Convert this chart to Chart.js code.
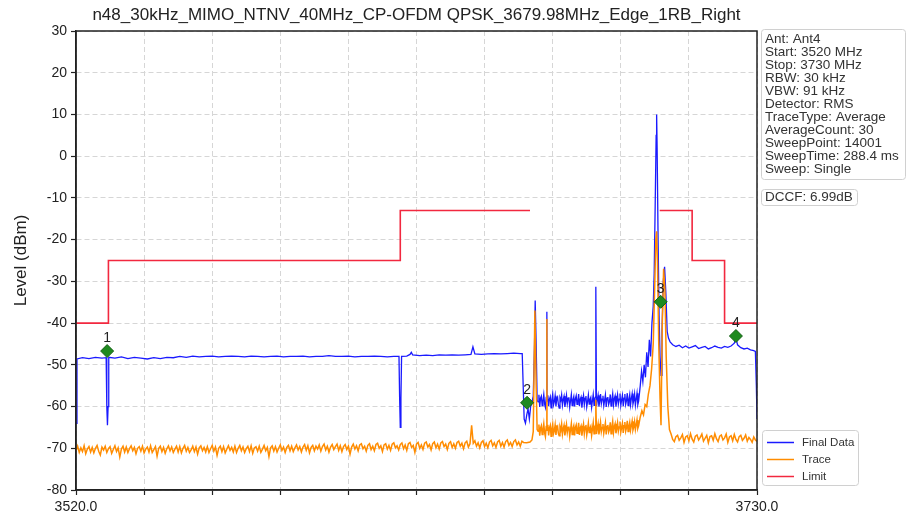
<!DOCTYPE html>
<html>
<head>
<meta charset="utf-8">
<script src="https://cdn.jsdelivr.net/npm/chart.js@4.4.0/dist/chart.umd.min.js"></script>
<style>
  html, body { margin: 0; padding: 0; background: #fff; }
</style>
</head>
<body>
<canvas id="place__graph1" width="909" height="517"></canvas>
<script>
// ---- chart values ----
const chartTitle = 'n48_30kHz_MIMO_NTNV_40MHz_CP-OFDM QPSK_3679.98MHz_Edge_1RB_Right';
const xTickValues = [3520, 3541, 3562, 3583, 3604, 3625, 3646, 3667, 3688, 3709, 3730];
const yTickValues = [-80, -70, -60, -50, -40, -30, -20, -10, 0, 10, 20, 30];

// Final Data (blue) - [MHz, dBm]
const finalLeft = [[3520,-64],[3520.3,-48.6],[3522,-48.3],[3524,-48.5],[3526,-48.2],[3528,-48.4],[3529.3,-48.3],[3529.5,-60],[3529.7,-64.5],[3529.9,-60],[3530.1,-48.2],
  [3532,-48.4],[3534,-48.1],[3536,-48.5],[3538,-48.2],[3540,-48.4],[3542,-48.6],[3544,-48.3],[3546,-48.5],[3548,-48.2],[3550,-48.3],[3552,-48.0],[3554,-48.2],
  [3556,-47.9],[3558,-48.1],[3560,-48.0],[3562,-47.9],[3564,-48.1],[3566,-48.0],[3568,-47.9],[3570,-48.0],[3572,-48.1],[3574,-47.9],[3576,-48.0],[3578,-48.1],
  [3580,-48.0],[3582,-47.9],[3584,-48.1],[3586,-48.0],[3588,-48.0],[3590,-47.9],[3592,-48.1],[3594,-48.0],[3596,-48.0],[3598,-47.8],[3600,-48.0],[3602,-48.0],
  [3604,-47.9],[3606,-48.1],[3608,-48.0],[3610,-48.0],[3612,-47.9],[3614,-48.0],[3616,-48.1],[3618,-48.0],[3619.6,-48.0],[3619.8,-58],[3620.0,-65],[3620.2,-58],
  [3620.4,-48.0],[3622,-47.9],[3623,-47.5],[3623.4,-47.0],[3623.8,-47.6],[3626,-47.8],[3628,-47.7],[3630,-47.8],[3632,-47.6],[3634,-47.7],[3636,-47.6],[3638,-47.7],
  [3640,-47.6],[3641.8,-47.5],[3642.4,-45.7],[3643,-47.4],[3645,-47.5],[3647,-47.4],[3649,-47.3],[3651,-47.4],[3653,-47.3],[3655,-47.2],[3657,-47.3],[3657.6,-47.3],
  [3657.9,-55],[3658.2,-63],[3658.6,-64],[3659.0,-62],[3659.4,-60.5],[3659.8,-63],[3660.2,-60],[3660.6,-59],[3661.0,-57.5],[3661.4,-45],[3661.6,-34.6],[3661.9,-45],[3662.2,-58.5]];
// in-band noise 3662.5 .. 3693.5 MHz, 0.25 MHz apart
const finalBandStart = 3662.5;
const finalBand = [
  -58.9,-57.2,-60.1,-58.0,-57.5,-59.8,-58.6,-57.1,-59.4,-60.2,-57.8,-58.7,-57.3,-59.9,-58.2,-57.6,-60.3,-58.4,-57.0,-59.6,
  -58.8,-57.4,-60.0,-58.1,-57.7,-59.5,-60.4,-57.9,-58.5,-57.2,-59.7,-58.3,-57.5,-60.1,-58.9,-57.3,-59.3,-58.0,-57.8,-60.2,
  -58.6,-57.1,-59.8,-58.4,-57.6,-60.0,-58.1,-57.4,-59.5,-58.7,-57.0,-59.9,-58.2,-57.7,-60.3,-58.5,-57.3,-59.6,-58.0,-57.5,
  -60.1,-58.8,-57.2,-59.4,-58.3,-57.8,-60.2,-58.6,-57.1,-59.7,-58.0,-57.6,-59.9,-58.4,-57.3,-60.0,-58.7,-57.0,-59.3,-58.2,
  -57.4,-59.8,-58.5,-57.2,-60.1,-58.0,-57.7,-59.5,-58.8,-57.1,-59.9,-58.3,-56.9,-59.6,-58.1,-57.4,-60.0,-58.6,-57.2,-59.4,
  -58.2,-56.9,-59.7,-58.4,-57.3,-59.9,-58.0,-57.0,-59.5,-58.6,-56.8,-59.8,-58.3,-57.1,-59.6,-58.1,-56.9,-59.4,-58.5,-57.0,
  -59.7,-58.2,-56.8,-59.5,-58.7];
const finalSpikes = [[3665.2,-37.3],[3680.3,-31.3]];
const finalRight = [[3694,-55],[3694.4,-51.5],[3694.8,-54],[3695.2,-50],[3695.6,-53],[3696,-47],[3696.4,-50.5],[3696.8,-44],[3697.2,-48],[3697.6,-40],
  [3698.0,-36],[3698.3,-28],[3698.6,-12],[3698.9,5],[3699.05,10],[3699.2,2],[3699.5,-20],[3699.8,-38],[3700.1,-48],[3700.4,-52.5],[3700.7,-42],
  [3701.1,-30],[3701.5,-26.5],[3701.9,-33],[3702.3,-42],[3702.7,-43.6],[3703.2,-44.5],
  [3704,-45.2],[3705,-45.6],[3706,-45.3],[3707,-45.9],[3708,-45.5],[3709,-46.0],[3710,-45.7],[3711,-45.4],[3712,-46.1],[3713,-45.8],[3714,-45.6],
  [3715,-46.2],[3716,-45.9],[3717,-45.5],[3718,-45.8],[3719,-46.0],[3720,-45.6],[3721,-45.8],[3722,-45.5],[3723,-44.8],[3723.5,-43.5],[3724,-45.2],
  [3725,-45.9],[3726,-46.2],[3727,-46.0],[3728,-46.4],[3729,-46.6],[3729.5,-46.8],[3729.8,-55],[3730,-63]];

// Trace (orange)
const traceLeftStart = 3520; // 0.5 MHz apart up to 3658
const traceLeft = [
  -70.6,-69.5,-71.0,-69.9,-70.8,-69.4,-71.3,-70.2,-69.6,-70.9,-69.8,-71.1,-70.0,-69.3,-70.7,-71.6,-69.7,-70.4,-69.5,-71.0,
  -70.1,-69.6,-71.2,-70.3,-69.4,-70.8,-69.9,-72.1,-70.2,-69.5,-70.9,-69.7,-71.0,-70.1,-69.4,-70.6,-69.8,-71.3,-70.0,-69.6,
  -70.7,-69.5,-71.1,-70.2,-69.7,-70.9,-69.4,-71.0,-70.3,-69.6,-71.9,-70.0,-69.5,-70.8,-69.8,-71.2,-70.1,-69.4,-70.6,-69.7,
  -71.0,-70.2,-69.5,-70.9,-69.6,-71.1,-70.0,-69.3,-70.7,-69.8,-71.0,-70.4,-69.5,-70.8,-69.7,-71.4,-69.9,-69.4,-70.6,-69.8,
  -70.9,-69.6,-71.0,-70.1,-69.3,-70.7,-69.7,-71.7,-70.0,-69.5,-70.8,-69.6,-71.1,-70.2,-69.4,-70.5,-69.8,-70.9,-69.5,-71.0,
  -70.0,-69.3,-70.6,-69.7,-71.0,-70.1,-69.5,-70.8,-69.4,-71.2,-69.9,-69.6,-70.7,-69.5,-71.0,-70.2,-69.3,-70.6,-69.8,-72.0,
  -69.9,-69.4,-70.7,-69.6,-70.9,-70.0,-69.2,-70.5,-69.7,-71.0,-69.8,-69.3,-70.6,-69.5,-70.8,-69.9,-69.2,-70.4,-69.6,-70.9,
  -69.7,-69.1,-70.5,-69.4,-71.1,-69.8,-69.3,-70.6,-69.5,-70.2,-69.2,-70.7,-69.6,-69.0,-70.4,-69.5,-70.9,-69.7,-69.1,-70.3,
  -69.6,-69.0,-70.5,-69.4,-70.8,-69.6,-69.1,-70.3,-69.5,-71.4,-69.7,-69.0,-70.2,-69.4,-70.6,-69.2,-68.9,-70.1,-69.5,-70.7,
  -69.3,-68.9,-70.3,-69.5,-70.6,-69.1,-68.8,-70.0,-69.4,-70.8,-69.2,-68.9,-70.2,-69.3,-70.5,-69.0,-68.7,-69.9,-69.4,-70.4,
  -69.1,-68.7,-70.1,-69.2,-70.5,-68.9,-68.6,-69.8,-69.3,-71.0,-69.0,-68.6,-70.0,-69.2,-70.3,-68.8,-68.5,-69.7,-69.1,-70.4,
  -68.9,-68.5,-69.9,-69.0,-70.2,-68.7,-68.4,-69.6,-69.0,-70.3,-68.8,-68.4,-69.8,-68.9,-70.0,-68.6,-68.3,-69.5,-68.8,-70.1,
  -68.7,-68.3,-69.7,-68.9,-64.5,-68.8,-68.2,-69.5,-68.7,-69.9,-68.6,-68.2,-69.6,-68.8,-69.9,-68.5,-68.1,-69.4,-68.7,-69.8,
  -68.5,-68.1,-69.5,-68.6,-69.7,-68.4,-68.0,-69.3,-68.6,-69.6,-68.4,-68.0,-69.2,-68.5,-69.5,-68.3,-68.6];
const traceStep = [[3659,-68.7],[3660,-68.5],[3660.6,-68],[3661.0,-66],[3661.5,-37],[3661.9,-55],[3662.2,-65.5]];
const traceBandStart = 3662.5; // 0.25 MHz apart up to 3693.5
const traceBand = [
  -65.9,-64.3,-67.0,-65.2,-64.6,-66.7,-65.5,-64.1,-66.3,-67.2,-64.8,-65.7,-64.4,-66.9,-65.1,-64.5,-67.1,-65.4,-64.2,-66.5,
  -65.8,-64.4,-66.8,-65.0,-64.7,-66.4,-67.0,-64.9,-65.6,-64.2,-66.6,-65.3,-64.5,-66.9,-65.7,-64.3,-66.2,-65.0,-64.8,-67.1,
  -65.5,-64.1,-66.7,-65.3,-64.6,-66.9,-65.0,-64.4,-66.4,-65.6,-63.9,-66.8,-65.1,-64.6,-67.0,-65.4,-64.2,-66.5,-64.9,-64.4,
  -66.8,-65.6,-64.0,-66.2,-65.2,-64.7,-66.9,-65.4,-63.9,-66.5,-64.9,-64.4,-66.6,-65.2,-64.1,-66.7,-65.5,-63.8,-66.0,-65.0,
  -64.2,-66.4,-65.2,-63.9,-66.7,-64.8,-64.4,-66.1,-65.5,-63.8,-66.5,-65.0,-63.6,-66.2,-64.8,-64.1,-66.4,-65.3,-63.9,-65.9,
  -64.9,-63.6,-66.1,-65.0,-64.0,-66.3,-64.6,-63.7,-65.9,-65.1,-63.4,-66.0,-64.8,-63.8,-65.7,-64.6,-63.5,-65.6,-64.9,-63.6,
  -65.5,-64.4,-63.2,-65.2,-64.6];
const traceSpikes = [[3665.2,-39],[3680.3,-58.4]];
const tracePeak = [[3694,-62.5],[3694.5,-61],[3695,-62],[3695.5,-59.5],[3696,-60],[3696.5,-57],[3697,-55],[3697.5,-51],[3698,-45],[3698.4,-33],
  [3698.8,-20],[3699.05,-18],[3699.3,-25],[3699.7,-45],[3700.1,-58],[3700.4,-64.5],[3700.8,-40],[3701.2,-27],[3701.6,-32],[3702.0,-48],
  [3702.5,-60],[3703.0,-65.5]];
const traceRightStart = 3703.5; // 0.5 MHz apart up to 3730
const traceRight = [-66.6,-67.9,-68.4,-67.2,-66.9,-68.1,-67.5,-66.7,-68.6,-67.3,
  -67.0,-68.2,-66.5,-67.8,-68.5,-67.1,-66.8,-68.0,-67.4,-66.6,
  -68.3,-67.6,-66.9,-68.7,-67.2,-67.0,-68.1,-66.5,-67.7,-68.4,
  -67.1,-66.8,-68.0,-67.5,-66.6,-68.6,-67.3,-67.0,-68.2,-66.7,
  -67.9,-68.5,-67.2,-66.9,-68.1,-67.6,-66.8,-68.3,-67.4,-67.9,
  -68.6,-67.3,-68.0,-68.4];

// Limit (red), null = gap over the channel
const limitFreq  = [3520, 3530, 3530, 3620, 3620, 3660, 3660, 3700, 3710, 3710, 3720, 3720, 3730];
const limitLevel = [-40,  -40,  -25,  -25,  -13,  -13,  null, -13,  -13,  -25,  -25,  -40,  -40];

// markers
const markerFreq  = [3529.6, 3659.1, 3700.3, 3723.5];
const markerLevel = [-46.7, -59.1, -34.9, -43.1];
const markerLabel = ['1', '2', '3', '4'];

const infoLines = ['Ant: Ant4', 'Start: 3520 MHz', 'Stop: 3730 MHz', 'RBW: 30 kHz', 'VBW: 91 kHz', 'Detector: RMS',
  'TraceType: Average', 'AverageCount: 30', 'SweepPoint: 14001', 'SweepTime: 288.4 ms', 'Sweep: Single'];
const dccfText = 'DCCF: 6.99dB';
const legendItems = [['Final Data', '#1a1aff'], ['Trace', '#ff8c00'], ['Limit', '#f2283f']];

// ---- helpers ----
const FONT = '"Liberation Sans", Arial, sans-serif';
function pairs(list) { return list.map(p => ({ x: p[0], y: p[1] })); }
function run(start, step, levels) { return levels.map((v, i) => ({ x: +(start + i * step).toFixed(2), y: v })); }
function byX(a, b) { return a.x - b.x; }

const finalPoints = [].concat(pairs(finalLeft), run(finalBandStart, 0.25, finalBand), pairs(finalSpikes), pairs(finalRight)).sort(byX);
const tracePoints = [].concat(run(traceLeftStart, 0.5, traceLeft), pairs(traceStep), run(traceBandStart, 0.25, traceBand),
  pairs(traceSpikes), pairs(tracePeak), run(traceRightStart, 0.5, traceRight)).sort(byX);
const limitPoints = limitFreq.map((f, i) => ({ x: f, y: limitLevel[i] }));
const markerPoints = markerFreq.map((f, i) => ({ x: f, y: markerLevel[i] }));

function roundBox(ctx, x, y, w, h, r) {
  ctx.beginPath();
  ctx.moveTo(x + r, y);
  ctx.arcTo(x + w, y, x + w, y + h, r);
  ctx.arcTo(x + w, y + h, x, y + h, r);
  ctx.arcTo(x, y + h, x, y, r);
  ctx.arcTo(x, y, x + w, y, r);
  ctx.closePath();
  ctx.fillStyle = 'rgba(255,255,255,0.85)';
  ctx.fill();
  ctx.strokeStyle = '#d0d0d0';
  ctx.lineWidth = 1;
  ctx.stroke();
}

const decor = {
  id: 'decor',
  afterDatasetsDraw(chart) {
    const { ctx, chartArea: a, scales } = chart;
    ctx.save();
    ctx.strokeStyle = '#222';
    ctx.lineWidth = 1.5;
    ctx.strokeRect(a.left, a.top, a.right - a.left, a.bottom - a.top);
    ctx.fillStyle = '#222';
    ctx.font = '14px ' + FONT;
    ctx.textAlign = 'center';
    ctx.textBaseline = 'bottom';
    markerLabel.forEach((t, i) => {
      const x = scales.x.getPixelForValue(markerFreq[i]);
      const y = scales.y.getPixelForValue(markerLevel[i]);
      ctx.fillText(t, x, y - 6);
    });
    ctx.restore();
  },
  afterDraw(chart) {
    const { ctx, chartArea: a } = chart;
    ctx.save();
    // title
    ctx.fillStyle = '#222';
    ctx.font = '17px ' + FONT;
    ctx.textAlign = 'center';
    ctx.textBaseline = 'middle';
    ctx.fillText(chartTitle, (a.left + a.right) / 2, 15);

    // info box
    roundBox(ctx, 761.5, 29.5, 144, 150, 3);
    ctx.fillStyle = '#333';
    ctx.font = '13.5px ' + FONT;
    ctx.textAlign = 'left';
    infoLines.forEach((t, i) => ctx.fillText(t, 765, 39 + i * 13));

    // DCCF box
    roundBox(ctx, 761.5, 189.5, 96, 16, 3);
    ctx.fillStyle = '#333';
    ctx.fillText(dccfText, 765, 197.5);

    // legend
    roundBox(ctx, 762.5, 430.5, 96, 55, 3);
    ctx.font = '11.5px ' + FONT;
    legendItems.forEach((item, i) => {
      const y = 442.5 + i * 17;
      ctx.strokeStyle = item[1];
      ctx.lineWidth = 1.5;
      ctx.beginPath();
      ctx.moveTo(767, y);
      ctx.lineTo(794, y);
      ctx.stroke();
      ctx.fillStyle = '#333';
      ctx.fillText(item[0], 802, y + 0.5);
    });
    ctx.restore();
  }
};

Chart.defaults.font.family = FONT;

const ctx = document.getElementById('place__graph1').getContext('2d');
const chart = new Chart(ctx, {
  type: 'line',
  data: {
    datasets: [
      { label: 'Markers', data: markerPoints, showLine: false, pointStyle: 'rectRot', pointRadius: 6.5,
        pointBackgroundColor: '#1f8a1f', pointBorderColor: '#146014', pointBorderWidth: 1, order: 0 },
      { label: 'Limit', data: limitPoints, borderColor: '#f2283f', borderWidth: 1.6, pointRadius: 0, spanGaps: false, order: 1 },
      { label: 'Trace', data: tracePoints, borderColor: '#ff8c00', borderWidth: 1.5, pointRadius: 0, order: 2 },
      { label: 'Final Data', data: finalPoints, borderColor: '#1a1aff', borderWidth: 1.3, pointRadius: 0, order: 3 }
    ]
  },
  options: {
    responsive: false,
    animation: false,
    devicePixelRatio: 1,
    layout: { padding: { top: 31, right: 152, left: 0, bottom: 0 } },
    elements: { line: { tension: 0 } },
    plugins: { legend: { display: false }, tooltip: { enabled: false }, title: { display: false } },
    scales: {
      x: {
        type: 'linear', min: 3520, max: 3730,
        afterBuildTicks: s => { s.ticks = xTickValues.map(v => ({ value: v })); },
        afterFit: s => { s.height = 27; },
        ticks: {
          autoSkip: false, maxRotation: 0, color: '#222', font: { size: 14 }, padding: 4,
          callback: (v, i, t) => (i === 0 || i === t.length - 1) ? Number(v).toFixed(1) : ''
        },
        grid: { color: '#d6d6d6', lineWidth: 1, tickLength: 5, tickColor: '#222', tickWidth: 1.2 },
        border: { display: true, color: '#222', width: 1.5, dash: [5, 3] }
      },
      y: {
        min: -80, max: 30,
        afterBuildTicks: s => { s.ticks = yTickValues.map(v => ({ value: v })); },
        afterFit: s => { s.width = 76; },
        ticks: { color: '#222', font: { size: 14 }, padding: 4 },
        title: { display: true, text: 'Level (dBm)', color: '#222', font: { size: 17 }, padding: { top: 11, bottom: 0 } },
        grid: { color: '#d6d6d6', lineWidth: 1, tickLength: 5, tickColor: '#222', tickWidth: 1.2 },
        border: { display: true, color: '#222', width: 1.5, dash: [5, 3] }
      }
    }
  },
  plugins: [decor]
});
</script>
</body>
</html>
